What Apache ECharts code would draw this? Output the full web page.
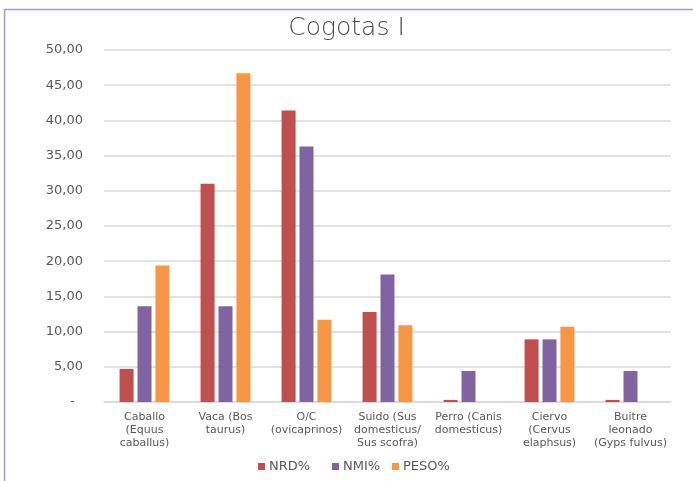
<!DOCTYPE html>
<html>
<head>
<meta charset="utf-8">
<script src="https://cdn.jsdelivr.net/npm/echarts@6/dist/echarts.min.js"></script>
<style>
  html, body { margin: 0; padding: 0; background: #ffffff; }
  #chart { width: 693px; height: 481px; }
</style>
</head>
<body>
<div id="chart"></div>
<script>
// Cogotas I: species shares by fragments, individuals and weight
const categories = [
  'Caballo\n(Equus\ncaballus)',
  'Vaca (Bos\ntaurus)',
  'O/C\n(ovicaprinos)',
  'Suido (Sus\ndomesticus/\nSus scofra)',
  'Perro (Canis\ndomesticus)',
  'Ciervo\n(Cervus\nelaphsus)',
  'Buitre\nleonado\n(Gyps fulvus)'
];
const seriesNames = ['NRD%', 'NMI%', 'PESO%'];
const nrd  = [4.7, 31.0, 41.4, 12.8, 0.3, 8.9, 0.3];
const nmi  = [13.6, 13.6, 36.3, 18.1, 4.4, 8.9, 4.4];
const peso = [19.4, 46.7, 11.7, 10.9, 0, 10.7, 0];

const colors = ['#c0504d', '#8064a2', '#f79646'];
const font = "'Century Gothic', 'DejaVu Sans', sans-serif";

const chart = echarts.init(document.getElementById('chart'), null, { renderer: 'canvas' });

function bar(name, data, color) {
  return {
    name: name,
    type: 'bar',
    data: data,
    barWidth: 14,
    barGap: '28%',
    itemStyle: { color: color }
  };
}

// one legend entry per component so each swatch sits at its own spot
const legendLefts = [253, 327, 387];
const legends = seriesNames.map(function (n, i) {
  return {
    data: [n],
    top: 455,
    left: legendLefts[i],
    itemWidth: 7,
    itemHeight: 7,
    itemGap: 0,
    icon: 'rect',
    textStyle: { fontFamily: font, fontSize: 13, color: '#595959', padding: [0, 0, 0, -1] }
  };
});

chart.setOption({
  animation: false,
  backgroundColor: '#ffffff',
  graphic: [{
    type: 'rect',
    shape: { x: 4.5, y: 9.5, width: 720, height: 520 },
    style: { fill: 'none', stroke: '#9c9ccf', lineWidth: 1.5 },
    silent: true
  }],
  title: {
    text: 'Cogotas I',
    left: 'center',
    top: 11,
    textStyle: { fontFamily: font, fontSize: 25, fontWeight: 200, color: '#4a4a4a' }
  },
  legend: legends,
  grid: { left: 104, right: 22, top: 50, bottom: 79, containLabel: false },
  xAxis: {
    type: 'category',
    data: categories,
    axisLine: { lineStyle: { color: '#d9d9d9', width: 1.5 } },
    axisTick: { show: false },
    axisLabel: {
      interval: 0,
      margin: 9,
      fontFamily: font,
      fontSize: 11,
      lineHeight: 13,
      color: '#595959'
    }
  },
  yAxis: {
    type: 'value',
    min: 0,
    max: 50,
    interval: 5,
    axisLine: { show: false },
    axisTick: { show: false },
    splitLine: { lineStyle: { color: '#d9d9d9', width: 1.5 } },
    axisLabel: {
      margin: 21,
      fontFamily: font,
      fontSize: 13,
      color: '#595959',
      formatter: function (v) {
        return v === 0 ? '-  ' : v.toFixed(2).replace('.', ',');
      }
    }
  },
  series: [
    bar(seriesNames[0], nrd, colors[0]),
    bar(seriesNames[1], nmi, colors[1]),
    bar(seriesNames[2], peso, colors[2])
  ]
});
</script>
</body>
</html>
